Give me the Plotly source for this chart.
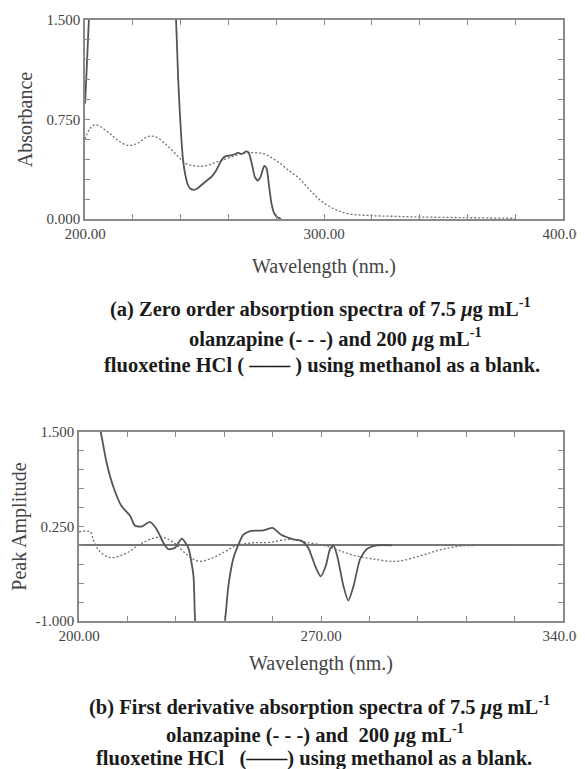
import plotly.graph_objects as go

# ---------------- data (a) zero order ----------------
olz_a_nm = [200, 202, 204, 206, 210, 214, 218, 222, 226, 228, 230, 234, 238, 242, 246, 250,
            255, 260, 265, 270, 275, 280, 285, 290, 295, 300, 305, 310, 320, 330, 340, 360, 380]
olz_a_abs = [0.60, 0.68, 0.71, 0.70, 0.65, 0.59, 0.555, 0.57, 0.62, 0.625, 0.615, 0.56, 0.49, 0.42, 0.40, 0.40,
             0.43, 0.46, 0.49, 0.50, 0.49, 0.44, 0.37, 0.30, 0.20, 0.12, 0.07, 0.04, 0.025, 0.02, 0.015, 0.01, 0.005]

flx_a_nm = [200, 200.5, 201, 201.5, 202, 203, 237, 238, 239, 240, 241, 242, 243, 244, 245.5, 247, 249, 251,
            253, 255, 257, 258.5, 261, 263, 264, 265.5, 267.5, 268.5, 270, 271, 272.3, 273.5, 275, 276,
            277, 278, 279, 280, 282]
flx_a_abs = [0.87, 1.05, 1.25, 1.45, 1.65, 1.9, 1.9, 1.55, 1.05, 0.70, 0.45, 0.33, 0.26, 0.23, 0.22, 0.23, 0.26, 0.29,
             0.32, 0.37, 0.44, 0.47, 0.48, 0.49, 0.50, 0.49, 0.51, 0.50, 0.40, 0.32, 0.29, 0.32, 0.40, 0.38,
             0.25, 0.12, 0.05, 0.02, 0.0]

# ---------------- data (b) first derivative ----------------
olz_b_nm = [200, 203.2, 204.1, 205.6, 209, 213.8, 218.6, 223.8, 227.3, 231.2, 234.5, 238.9, 242.7, 245.6,
            250.4, 255, 261, 265.9, 271.7, 275.5, 279.4, 285.1, 291.9, 298.6, 304.4, 310.2, 316, 325.6]
olz_b_amp = [0.18, 0.18, 0.08, -0.06, -0.16, -0.10, 0.04, 0.11, 0.04, -0.12, -0.21, -0.16, -0.07, 0.0,
             0.035, 0.04, 0.08, 0.04, -0.01, -0.07, -0.13, -0.18, -0.21, -0.14, -0.06, -0.01, 0.0, 0.0]

flx_b_nm = [200, 204, 206.3, 208, 209.9, 212.3, 214.8, 216.2, 218.1, 220.5, 222.5, 224.4, 225.8, 227.8,
            229.7, 231.6, 233.1, 233.6, 235, 240, 242.2, 243.2, 244.6, 246.1, 247.5, 249.5, 253.3, 256.1,
            258.5, 262, 264.4, 266.3, 268.3, 269.9, 271.4, 272.6, 273.6, 274.7, 276.5, 277.9, 279.4,
            281.3, 283.2, 286.1, 290.5]
flx_b_amp = [3.0, 2.0, 1.5, 1.09, 0.78, 0.52, 0.39, 0.26, 0.25, 0.31, 0.21, 0.035, -0.05, -0.03,
             0.09, -0.03, -0.40, -1.0, -1.5, -1.5, -1.0, -0.54, -0.18, 0.01, 0.14, 0.19, 0.20, 0.23,
             0.14, 0.08, 0.06, -0.03, -0.27, -0.41, -0.27, -0.05, 0.0, -0.14, -0.54, -0.73, -0.54,
             -0.18, -0.05, 0.0, 0.0]

# ---------------- ticks ----------------
xa_ticks = [200, 220, 240, 260, 280, 300, 320, 340, 360, 380, 400]
xa_text = ["200.00", "", "", "", "", "300.00", "", "", "", "", "400.00"]
ya_ticks = [0, 0.15, 0.30, 0.45, 0.60, 0.75, 0.90, 1.05, 1.20, 1.35, 1.50]
ya_text = ["0.000", "", "", "", "", "0.750", "", "", "", "", "1.500"]

xb_ticks = [200, 214, 228, 242, 256, 270, 284, 298, 312, 326, 340]
xb_text = ["200.00", "", "", "", "", "270.00", "", "", "", "", "340.00"]
yb_ticks = [-1.0, -0.75, -0.5, -0.25, 0, 0.25, 0.5, 0.75, 1.0, 1.25, 1.5]
yb_text = ["-1.000", "", "", "", "", "0.250", "", "", "", "", "1.500"]

# page is drawn with an 8px body margin
OFF = 8
W, H = 577, 761


def fx(px):
    return (px - OFF) / W


def fy(py):
    return 1 - (py - OFF) / H


SERIF = "Liberation Serif"
AX = "#8a8a8a"
SOLID = "#555555"
DASH = "#707070"

fig = go.Figure()
fig.add_trace(go.Scatter(x=olz_a_nm, y=olz_a_abs, mode="lines", line=dict(color=DASH, width=1.3, dash="2px,2px", shape="spline"),
                         xaxis="x", yaxis="y", showlegend=False))
fig.add_trace(go.Scatter(x=flx_a_nm, y=flx_a_abs, mode="lines", line=dict(color=SOLID, width=1.8, shape="spline", smoothing=0.6),
                         xaxis="x", yaxis="y", showlegend=False))
fig.add_trace(go.Scatter(x=olz_b_nm, y=olz_b_amp, mode="lines", line=dict(color=DASH, width=1.3, dash="2px,2px", shape="spline"),
                         xaxis="x2", yaxis="y2", showlegend=False))
fig.add_trace(go.Scatter(x=flx_b_nm, y=flx_b_amp, mode="lines", line=dict(color=SOLID, width=1.8, shape="spline", smoothing=0.6),
                         xaxis="x2", yaxis="y2", showlegend=False))


def xax(domain, rng, tv, tt, standoff):
    return dict(domain=domain, range=rng, tickvals=tv, ticktext=tt, ticks="inside", ticklen=5, tickwidth=1,
                tickcolor=AX, showline=True, linecolor=AX, linewidth=1.5, mirror="ticks", showgrid=False,
                zeroline=False, automargin=False, tickfont=dict(family=SERIF, size=15, color="#444"),
                title=dict(text="Wavelength (nm.)", font=dict(family=SERIF, size=20, color="#444"), standoff=standoff))


def yax(domain, rng, tv, tt, title, anchor, standoff):
    return dict(domain=domain, range=rng, tickvals=tv, ticktext=tt, ticks="inside", ticklen=5, tickwidth=1,
                tickcolor=AX, showline=True, linecolor=AX, linewidth=1.5, mirror="ticks", showgrid=False,
                zeroline=False, automargin=False, tickfont=dict(family=SERIF, size=15, color="#444"), anchor=anchor,
                title=dict(text=title, font=dict(family=SERIF, size=20, color="#444"), standoff=standoff))


ya = yax([fy(219), fy(20)], [0, 1.5], ya_ticks, ya_text, "Absorbance", "x", 9)
yb = yax([fy(621), fy(432)], [-1.0, 1.5], yb_ticks, yb_text, "Peak Amplitude", "x2", 8)
yb.update(zeroline=True, zerolinecolor="#777", zerolinewidth=1.5)
xa = xax([fx(85), fx(563)], [200, 400], xa_ticks, xa_text, 18)
xa["anchor"] = "y"
xb = xax([fx(79), fx(563)], [200, 340], xb_ticks, xb_text, 13)
xb["anchor"] = "y2"

fig.update_layout(width=W, height=H, autosize=False, margin=dict(l=0, r=0, t=0, b=0, autoexpand=False),
                  template="none", paper_bgcolor="white", plot_bgcolor="white",
                  xaxis=xa, yaxis=ya, xaxis2=xb, yaxis2=yb)

cap_font = dict(family=SERIF, size=20.5, color="#1a1a1a")
captions = [
    ("<b>(a) Zero order absorption spectra of 7.5 <i>μ</i>g mL<sup>-1</sup></b>", 320, 308),
    ("<b>olanzapine (- - -) and 200 <i>μ</i>g mL<sup>-1</sup></b>", 335, 337),
    ("<b>fluoxetine HCl ( —— ) using methanol as a blank.</b>", 322, 365),
    ("<b>(b) First derivative absorption spectra of 7.5 <i>μ</i>g mL<sup>-1</sup></b>", 319, 705),
    ("<b>olanzapine (- - -) and  200 <i>μ</i>g mL<sup>-1</sup></b>", 315, 733),
    ("<b>fluoxetine HCl   (——) using methanol as a blank.</b>", 314, 758),
]
for txt, cx, cy in captions:
    fig.add_annotation(text=txt, x=fx(cx), y=fy(cy), xref="paper", yref="paper", xanchor="center",
                       yanchor="middle", showarrow=False, font=cap_font)

fig.write_html("out.html")
